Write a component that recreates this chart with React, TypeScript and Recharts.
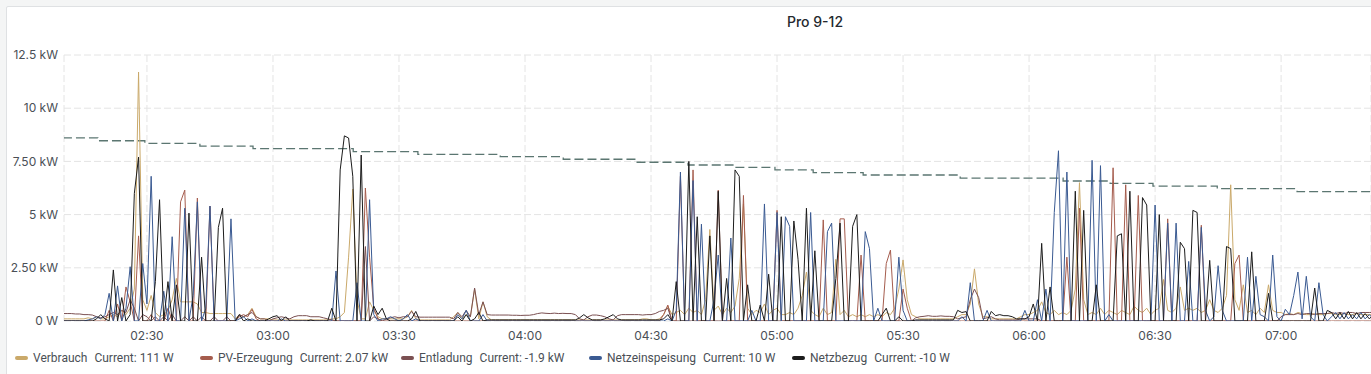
import { LineChart, Line, XAxis, YAxis, CartesianGrid } from "recharts";

// samples are one per minute, counted in minutes after 02:00
const START_MIN = 10;

// kW
const verbrauch = [
  0.1, 0.1, 0.1, 0.1, 0.1, 0.1, 0.15, 0.1, 0.2, 0.1,
  0.1, 0.2, 0.3, 0.2, 0.5, 0.3, 0.6, 1.5, 11.7, 1.0,
  0.5, 1.2, 0.4, 0.2, 0.3, 0.5, 1.0, 2.0, 0.9, 0.9,
  0.9, 0.9, 0.8, 0.4, 0.4, 0.35, 0.35, 0.35, 0.35, 0.35,
  0.35, 0.1, 0.3, 0.2, 0.3, 0.6, 0.2, 0.1, 0.1, 0.1,
  0.05, 0.05, 0.05, 0.05, 0.05, 0.05, 0.05, 0.05, 0.05, 0.05,
  0.05, 0.05, 0.05, 0.05, 0.1, 0.1, 0.2, 0.4, 3.0, 6.2,
  1.0, 0.1, 0.1, 0.9, 0.5, 0.2, 0.1, 0.1, 0.1, 0.1,
  0.1, 0.1, 0.2, 0.5, 0.1, 0.05, 0.05, 0.05, 0.05, 0.05,
  0.05, 0.05, 0.05, 0.2, 0.4, 0.1, 0.3, 0.2, 1.5, 0.1,
  0.9, 0.2, 0.05, 0.05, 0.05, 0.05, 0.05, 0.05, 0.05, 0.05,
  0.05, 0.05, 0.05, 0.05, 0.05, 0.05, 0.05, 0.05, 0.05, 0.05,
  0.05, 0.05, 0.05, 0.05, 0.05, 0.05, 0.05, 0.05, 0.05, 0.05,
  0.05, 0.05, 0.05, 0.05, 0.05, 0.05, 0.05, 0.05, 0.1, 0.1,
  0.05, 0.05, 0.1, 0.3, 0.7, 0.3, 0.4, 0.5, 0.3, 0.6,
  0.4, 0.5, 0.3, 1.0, 4.3, 0.5, 0.7, 0.3, 0.6, 0.4,
  0.7, 2.0, 5.5, 0.6, 0.3, 0.5, 0.4, 0.8, 0.3, 0.5,
  0.6, 0.3, 0.3, 0.4, 0.3, 0.6, 1.2, 2.3, 0.5, 0.3,
  0.2, 0.6, 0.3, 0.4, 2.9, 0.3, 0.5, 0.2, 0.3, 0.2,
  0.3, 0.2, 0.3, 0.2, 0.3, 0.2, 0.4, 0.3, 0.6, 1.5,
  2.87, 1.0, 0.3, 0.2, 0.1, 0.1, 0.1, 0.1, 0.1, 0.1,
  0.1, 0.1, 0.1, 0.2, 0.3, 0.3, 0.8, 2.45, 0.8, 0.2,
  0.2, 0.1, 0.1, 0.1, 0.1, 0.1, 0.1, 0.1, 0.2, 0.3,
  0.3, 0.4, 0.5, 0.9, 0.4, 0.3, 0.5, 0.3, 0.4, 0.3,
  0.5, 1.5, 6.5, 1.0, 0.3, 0.4, 0.3, 0.6, 0.3, 0.5,
  0.4, 0.3, 0.5, 0.4, 0.3, 0.7, 0.5, 0.4, 0.6, 0.3,
  0.5, 0.6, 1.95, 0.5, 0.4, 0.6, 1.6, 0.5, 0.6, 0.5,
  0.6, 0.4, 0.5, 1.0, 0.5, 0.4, 0.6, 1.2, 6.4, 1.0,
  0.5, 1.7, 0.4, 0.5, 0.3, 0.6, 0.4, 1.7, 0.5, 0.4,
  0.4, 0.3, 0.35, 0.3, 0.4, 0.35, 0.3, 0.3, 0.35, 0.3,
  0.3, 0.35, 0.35, 0.3, 0.3, 0.35, 0.3, 0.3, 0.35, 0.3,
  0.3, 0.3, 0.3,
];

const pvErzeugung = [
  0, 0, 0, 0, 0, 0, 0, 0, 0, 0,
  0, 0.5, 0, 0.8, 0, 1.6, 0.9, 0, 4.0, 0,
  0, 0.3, 0, 0, 0, 0.6, 0, 0, 5.6, 6.15,
  0, 0, 5.78, 0, 0, 5.4, 0, 0, 0, 0,
  0, 0, 0.2, 0.3, 0.2, 0.55, 0.1, 0, 0, 0,
  0, 0, 0, 0, 0, 0, 0, 0, 0, 0,
  0, 0, 0, 0, 0, 0, 0, 0, 0, 0,
  0, 0, 6.25, 3.0, 0.6, 0.1, 0, 0, 0, 0,
  0, 0, 0, 0, 0, 0, 0, 0, 0, 0,
  0, 0, 0, 0, 0, 0, 0, 0, 0, 0,
  0, 0, 0, 0, 0, 0, 0, 0, 0, 0,
  0, 0, 0, 0, 0, 0, 0, 0, 0, 0,
  0, 0, 0, 0, 0, 0, 0, 0, 0, 0,
  0, 0, 0, 0, 0, 0, 0, 0, 0, 0,
  0, 0, 0, 0.3, 0.75, 0, 0, 6.8, 0, 0,
  7.1, 0, 0, 0, 0, 0, 6.15, 0, 0, 0,
  0, 0, 5.9, 0, 0, 0, 0, 0, 0, 0,
  5.2, 0, 0, 0, 0, 0, 0, 0, 0, 0,
  0, 4.75, 0, 0, 0, 4.8, 4.8, 0, 0, 0,
  3.1, 0, 0, 0, 0, 0, 2.7, 3.33, 0, 0,
  1.5, 0.6, 0, 0, 0, 0, 0, 0, 0, 0,
  0, 0, 0, 0, 0, 0, 0, 0, 0, 0,
  0, 0, 0, 0, 0, 0, 0, 0, 0, 0,
  0, 0, 0, 0, 0, 0, 0, 0, 0, 3.0,
  0, 0, 5.3, 0, 0, 0, 0, 0, 0, 0,
  7.2, 0, 0, 6.4, 0, 0, 5.9, 0, 0, 0,
  0, 0, 0, 4.8, 0, 0, 0, 0, 0, 0,
  0, 4.5, 0, 0, 0, 0, 0, 0, 0, 2.7,
  3.1, 0, 0, 0, 0, 0, 0, 0, 0, 0,
  0, 0, 0, 0, 0, 0, 0, 0, 0, 0,
  0, 0, 0, 0, 0, 0, 0, 0, 0, 0,
  0, 0, 0,
];

const entladung = [
  0.35, 0.35, 0.35, 0.33, 0.33, 0.3, 0.3, 0.28, 0.2, 0.15,
  0.2, 0.3, 0.4, 0.3, 0.5, 0.4, 1.0, 0.6, 0, 0.3,
  0.2, 0, 0.2, 0, 0.2, 0, 0.3, 0, 0, 0.2,
  0, 0.2, 0, 0.2, 0, 0, 0.2, 0, 0, 0.2,
  0, 0, 0.3, 0.2, 0.3, 0.4, 0.2, 0.1, 0.1, 0,
  0.1, 0.15, 0.2, 0.15, 0.1, 0.2, 0.25, 0.25, 0.25, 0.2,
  0.2, 0.2, 0.15, 0.1, 0.05, 0, 0, 0, 0, 0,
  0, 0, 3.5, 0, 0.2, 0.1, 0, 0.1, 0.15, 0.2,
  0.15, 0.2, 0.2, 0.45, 0.2, 0.18, 0.18, 0.18, 0.18, 0.18,
  0.18, 0.18, 0.18, 0.1, 0.4, 0.2, 0.5, 0.2, 1.55, 0.3,
  0.9, 0.3, 0.28, 0.28, 0.28, 0.28, 0.28, 0.27, 0.27, 0.26,
  0.27, 0.27, 0.3, 0.35, 0.38, 0.36, 0.35, 0.37, 0.35, 0.36,
  0.35, 0.35, 0.3, 0.1, 0.05, 0.2, 0.28, 0.28, 0.25, 0.2,
  0.1, 0.05, 0.25, 0.3, 0.3, 0.3, 0.3, 0.3, 0.28, 0.3,
  0.3, 0.35, 0.45, 0.5, 0.6, 0, 0, 0, 0, 0,
  0, 0, 0, 0, 0, 0, 0, 0, 0, 0,
  0, 0, 0, 0, 0, 0, 0, 0, 0, 0,
  0, 0, 0, 0, 0, 0, 0, 0, 0, 0,
  0, 0, 0, 0, 0, 0, 0, 0, 0, 0,
  0, 0, 0, 0, 0, 0, 0, 0, 0, 0,
  0, 0, 0, 0.15, 0.2, 0.22, 0.25, 0.22, 0.22, 0.24,
  0.22, 0.22, 0.2, 0.1, 0.15, 0.2, 1.0, 1.5, 1.1, 0.1,
  0.15, 0.2, 0.1, 0.05, 0.05, 0.05, 0.05, 0.05, 0.1, 0.1,
  0.1, 0.1, 0.1, 0, 0, 0, 0, 0, 0, 0,
  0, 0, 0, 0, 0, 0, 0, 0, 0, 0,
  0, 0, 0, 0, 0, 0, 0, 0, 0, 0,
  0, 0, 0, 0, 0, 0, 0, 0, 0, 0,
  0, 0, 0, 0, 0, 0, 0, 0, 0, 0,
  0, 0, 0, 0, 0, 0, 0, 0, 0, 0,
  0.2, 0.3, 0.3, 0.3, 0.35, 0.3, 0.35, 0.35, 0.3, 0.35,
  0.35, 0.35, 0.4, 0.35, 0.4, 0.35, 0.4, 0.4, 0.35, 0.4,
  0.4, 0.4, 0.4,
];

const netzeinspeisung = [
  0, 0, 0, 0, 0, 0, 0.05, 0.1, 0.2, 0.1,
  0.3, 1.3, 0, 1.65, 0, 0.6, 2.55, 0, 0, 2.7,
  0.8, 6.8, 0, 0, 1.4, 0, 3.96, 0, 0, 5.3,
  0, 1.2, 5.6, 0, 0.6, 5.4, 0, 0, 0, 0,
  4.8, 0, 0.1, 0.2, 0, 0.1, 0, 0, 0, 0,
  0, 0, 0.1, 0, 0, 0, 0, 0, 0, 0,
  0, 0, 0, 0, 0, 2.35, 0, 0, 0, 0,
  1.8, 0, 0, 5.7, 0.3, 0, 0.1, 0.1, 0.2, 0.1,
  0, 0.1, 0.3, 0, 0.1, 0, 0, 0, 0, 0,
  0, 0, 0, 0, 0.3, 0.1, 0.5, 0, 0, 0,
  0.3, 0, 0, 0, 0, 0, 0, 0, 0, 0,
  0, 0, 0, 0, 0, 0, 0, 0, 0, 0,
  0, 0, 0, 0, 0, 0, 0, 0, 0, 0,
  0, 0, 0, 0, 0, 0, 0, 0, 0, 0,
  0, 0, 0, 0, 0.1, 0, 0.5, 7.0, 0, 0,
  6.6, 0, 4.55, 0, 0, 1.0, 3.1, 0, 0, 3.9,
  0, 0, 0, 0, 0.5, 0, 0, 5.5, 0, 0,
  5.1, 0, 4.9, 4.45, 0, 0, 0, 0, 5.1, 0,
  0, 0, 4.2, 4.6, 0, 0, 0, 0, 0, 0,
  0, 4.2, 3.4, 0, 0.6, 0, 0, 0, 0, 3.0,
  0.5, 0, 0, 0, 0, 0, 0, 0, 0, 0,
  0, 0, 0, 0, 0.2, 0, 1.8, 0, 0, 0,
  0.5, 0, 0, 0, 0, 0, 0, 0, 0, 0.5,
  0, 0, 1.0, 0, 1.5, 0, 5.1, 8.0, 0, 7.0,
  0, 0, 0, 0, 0, 7.55, 0, 7.3, 0, 0.3,
  0, 0, 0, 0, 0, 0, 0, 0, 0, 0,
  5.45, 0, 0, 4.6, 0, 4.6, 0, 0, 2.8, 0,
  0, 4.4, 0.5, 0, 0.2, 2.6, 0.5, 0, 0, 0,
  0, 0, 3.0, 0, 2.1, 0.3, 0.2, 0, 3.1, 0.2,
  0, 0.55, 0.3, 1.2, 2.3, 0.1, 2.1, 0.2, 0, 1.8,
  0.3, 0, 0.2, 0.4, 0.1, 0.4, 0.1, 0.3, 0.1, 0.4,
  0.1, 0.3, 0.1,
];

const netzbezug = [
  0, 0, 0, 0, 0, 0, 0, 0, 0.1, 0.3,
  0.1, 0, 2.4, 0, 1.1, 0, 0.3, 6.0, 7.7, 0,
  0, 0, 1.85, 5.7, 0, 1.85, 0, 1.7, 0, 0,
  5.07, 0, 0, 3.0, 0, 0, 0, 4.4, 5.3, 0,
  0, 0, 0.3, 0, 0.1, 0, 0, 0, 0, 0.1,
  0.2, 0.25, 0, 0.2, 0, 0, 0, 0, 0, 0.05,
  0, 0, 0, 0, 0.6, 0, 7.1, 8.7, 8.6, 6.8,
  0, 7.8, 0, 0, 0.7, 0.3, 0.6, 0.1, 0, 0,
  0, 0, 0, 0.1, 0.45, 0, 0, 0, 0, 0,
  0, 0, 0, 0, 0.2, 0, 0.3, 0, 0.1, 0.4,
  0, 0.05, 0.05, 0.05, 0.05, 0.05, 0.05, 0.05, 0.05, 0.05,
  0.05, 0.05, 0.05, 0.05, 0.05, 0.05, 0.05, 0.05, 0.05, 0.05,
  0.05, 0.05, 0.05, 0.15, 0.3, 0.15, 0.05, 0.05, 0.05, 0.1,
  0.2, 0.3, 0.1, 0.05, 0.05, 0.05, 0.05, 0.05, 0.05, 0.05,
  0.05, 0.05, 0.05, 0.1, 0.3, 0, 1.85, 0, 0, 7.5,
  0, 4.9, 0, 0, 4.0, 0, 6.1, 0, 2.0, 0,
  7.1, 6.8, 0, 1.7, 0, 0, 0.75, 0, 2.2, 0,
  0, 4.9, 0, 0, 4.7, 2.9, 0, 5.3, 0, 3.3,
  0, 0, 0, 0, 2.0, 4.6, 0, 0, 4.45, 5.0,
  0, 0, 0, 0, 0, 0.3, 0.6, 0, 0, 0.2,
  0, 0, 0, 0.05, 0.05, 0.05, 0.05, 0.05, 0.05, 0.05,
  0.05, 0.05, 0.05, 0.5, 0.4, 0.44, 0, 0, 0, 0,
  0, 0.45, 0.25, 0.3, 0.25, 0.25, 0.2, 0.1, 0.1, 0.1,
  0.2, 0.8, 0, 3.65, 0, 1.6, 0, 0, 0, 0,
  0, 6.1, 0, 5.2, 0, 0, 1.7, 0, 0, 0,
  0, 4.0, 4.1, 0, 6.1, 0, 0, 5.8, 5.45, 0,
  0, 5.0, 0, 0, 0, 0, 3.7, 3.4, 0, 5.2,
  5.1, 0, 0, 2.85, 0, 0, 0, 3.5, 3.4, 0,
  0, 0, 0, 3.25, 0, 0, 0, 1.3, 0, 0,
  0, 0, 0, 0, 0, 0, 0, 0, 1.55, 0,
  0, 0.5, 0.4, 0.1, 0.4, 0.1, 0.45, 0.1, 0.4, 0.1,
  0.35, 0.1, 0.3,
];

// dashed step line (no legend entry)
const stepTimes = [10, 18.3, 29.5, 42.6, 55.25, 79.1, 94.5, 114.1, 129.1, 146.7, 158.8, 169.5, 179.5, 188.6, 200.5, 223.6, 248.1, 259.3, 269.5, 284.8, 303.8, 322];
const stepValues = [8.61, 8.47, 8.35, 8.22, 8.1, 7.96, 7.83, 7.72, 7.6, 7.46, 7.33, 7.22, 7.1, 6.97, 6.86, 6.71, 6.58, 6.47, 6.34, 6.22, 6.08, 6.08];

const xTicks = [30, 60, 90, 120, 150, 180, 210, 240, 270, 300];
const xTickLabels = ["02:30", "03:00", "03:30", "04:00", "04:30", "05:00", "05:30", "06:00", "06:30", "07:00"];
const yTicks = [0, 2.5, 5, 7.5, 10, 12.5];
const yTickLabels = ["0 W", "2.50 kW", "5 kW", "7.50 kW", "10 kW", "12.5 kW"];

const series = [
  { key: "verbrauch", name: "Verbrauch", current: "111 W", color: "#caa96a" },
  { key: "pv", name: "PV-Erzeugung", current: "2.07 kW", color: "#a55c4d" },
  { key: "entladung", name: "Entladung", current: "-1.9 kW", color: "#7b5052" },
  { key: "einspeisung", name: "Netzeinspeisung", current: "10 W", color: "#3a5a92" },
  { key: "bezug", name: "Netzbezug", current: "-10 W", color: "#1c1c1c" },
];

// legend item left edges (swatch), as in the panel
const legendLeft = [15, 200, 401, 589, 792];

const rows = verbrauch.map((v, i) => ({
  t: START_MIN + i,
  verbrauch: v,
  pv: pvErzeugung[i],
  entladung: entladung[i],
  einspeisung: netzeinspeisung[i],
  bezug: netzbezug[i],
}));

const stepRows = stepTimes.map((t, i) => ({ t, level: stepValues[i] }));

const FONT = "Inter, Roboto, 'Noto Sans', sans-serif";
const LEGEND_FONT = "Roboto, 'Noto Sans', sans-serif";
const TEXT = "#4a4f56";

export default function App() {
  return (
    <div style={{ position: "absolute", left: 0, top: 0, width: 1371, height: 374, background: "#f4f5f5", fontFamily: FONT, overflow: "hidden" }}>
      <div style={{ position: "absolute", left: 6, top: 6, width: 1380, height: 380, background: "#fff", border: "1px solid #dfe1e3", borderRadius: 2 }} />

      <div style={{ position: "absolute", left: 735, top: 12, width: 160, textAlign: "center", fontSize: 14, fontWeight: 500, color: "#24292e", lineHeight: "20px" }}>
        Pro 9-12
      </div>

      <div style={{ position: "absolute", left: 0, top: 0 }}>
        <LineChart width={1371} height={374} data={rows} margin={{ top: 55, right: 0, bottom: 28, left: 6 }}>
          <CartesianGrid stroke="#e4e4e4" strokeDasharray="7 3" />
          <XAxis
            dataKey="t"
            type="number"
            domain={[10.25, 321.4]}
            ticks={xTicks}
            tickFormatter={(v) => xTickLabels[xTicks.indexOf(v)]}
            allowDataOverflow
            axisLine={false}
            tickLine={false}
            tickSize={0}
            tickMargin={10}
            height={25}
            tick={{ fill: TEXT, fontSize: 12, fontFamily: FONT }}
          />
          <YAxis
            domain={[0, 12.5]}
            ticks={yTicks}
            tickFormatter={(v) => yTickLabels[yTicks.indexOf(v)]}
            allowDataOverflow
            axisLine={false}
            tickLine={false}
            tickSize={0}
            tickMargin={6}
            width={58}
            tick={{ fill: TEXT, fontSize: 12, fontFamily: FONT }}
          />
          <Line
            data={stepRows}
            dataKey="level"
            type="stepAfter"
            stroke="#5b7671"
            strokeWidth={1.3}
            strokeDasharray="9 4"
            dot={false}
            activeDot={false}
            isAnimationActive={false}
          />
          {series.map((s) => (
            <Line
              key={s.key}
              dataKey={s.key}
              name={s.name}
              type="linear"
              stroke={s.color}
              strokeWidth={1}
              dot={false}
              activeDot={false}
              isAnimationActive={false}
            />
          ))}
        </LineChart>
      </div>

      {/* legend */}
      {series.map((s, i) => (
        <div
          key={s.key}
          style={{ position: "absolute", left: legendLeft[i], top: 350, display: "flex", alignItems: "center", fontSize: 12, fontFamily: LEGEND_FONT, color: TEXT, whiteSpace: "nowrap", lineHeight: "16px" }}
        >
          <span style={{ display: "inline-block", width: 13, height: 4, borderRadius: 2, background: s.color, marginRight: 5 }} />
          <span>{s.name}</span>
          <span style={{ marginLeft: 7 }}>Current: {s.current}</span>
        </div>
      ))}
    </div>
  );
}
